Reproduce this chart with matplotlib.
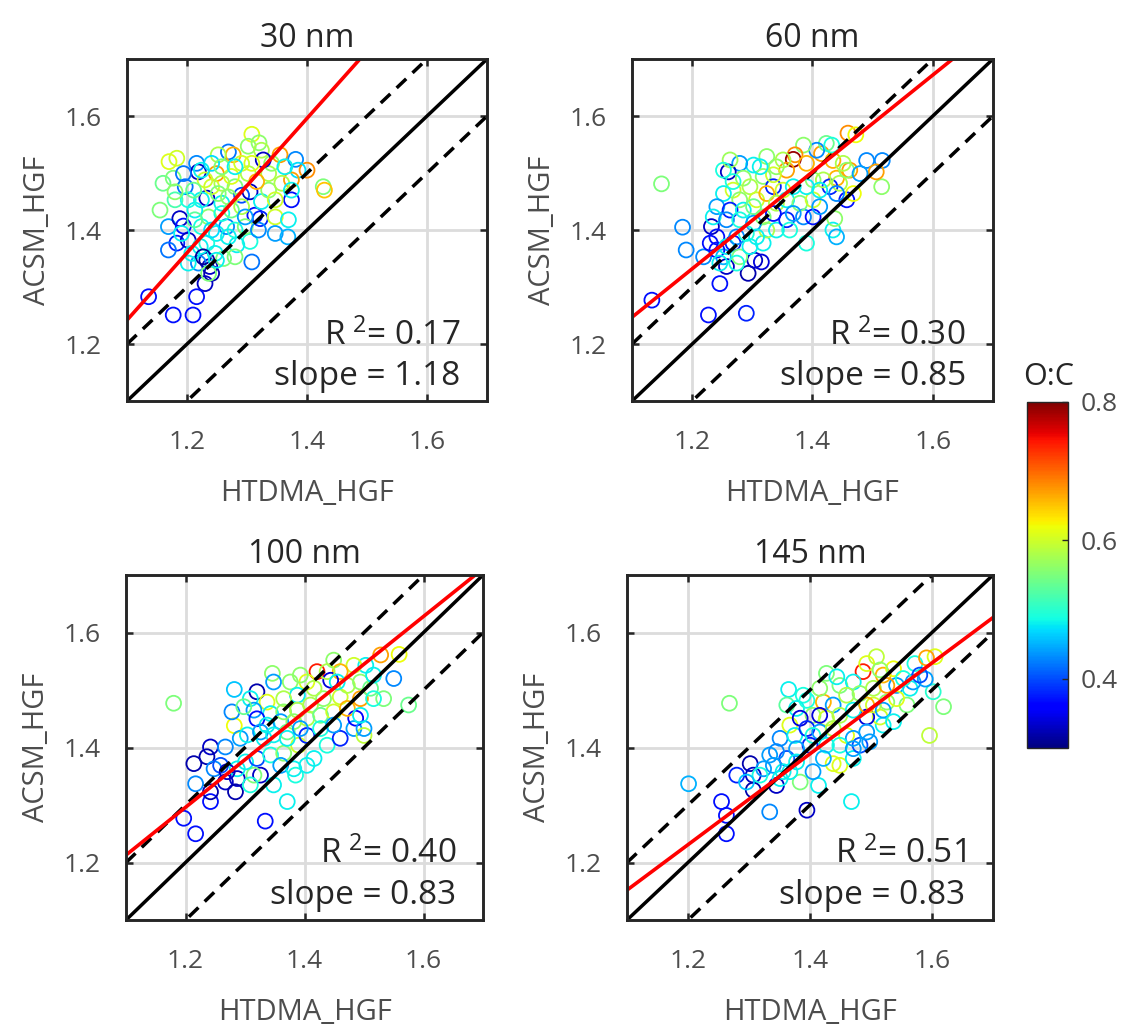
import numpy as np
import matplotlib
matplotlib.use('Agg')
import matplotlib.pyplot as plt
from matplotlib.colors import Normalize
from matplotlib.cm import ScalarMappable

plt.rcParams['font.family'] = ['Open Sans', 'DejaVu Sans']
plt.rcParams['mathtext.fontset'] = 'custom'
plt.rcParams['mathtext.rm'] = 'Open Sans'
plt.rcParams['mathtext.it'] = 'Open Sans'
plt.rcParams['axes.linewidth'] = 2.1

# ---- data ----
titles = ['30 nm', '60 nm', '100 nm', '145 nm']
r2_text = ['0.17', '0.30', '0.40', '0.51']
slope_text = ['1.18', '0.85', '0.83', '0.83']
fit_slope = [1.18, 0.85, 0.83, 0.79]
fit_icpt = [-0.056, 0.312, 0.30, 0.283]
axis_ticks = [1.2, 1.4, 1.6]
cbar_ticks = [0.4, 0.6, 0.8]

x30 = [
    1.308, 1.320, 1.302, 1.324, 1.170, 1.183, 1.269, 1.277, 1.252, 1.355,
    1.381, 1.400, 1.385, 1.374, 1.427, 1.429, 1.216, 1.219, 1.249, 1.160,
    1.177, 1.197, 1.180, 1.155, 1.169, 1.188, 1.194, 1.183, 1.169, 1.202,
    1.233, 1.241, 1.224, 1.258, 1.280, 1.291, 1.305, 1.313, 1.322, 1.347,
    1.374, 1.369, 1.347, 1.368, 1.305, 1.283, 1.308, 1.233, 1.238, 1.241,
    1.230, 1.216, 1.136, 1.177, 1.210, 1.219, 1.261, 1.208, 1.222, 1.249,
    1.266, 1.280, 1.297, 1.224, 1.236, 1.213, 1.258, 1.274, 1.291, 1.324,
    1.336, 1.347, 1.336, 1.316, 1.302, 1.291, 1.274, 1.258, 1.230, 1.224,
    1.241, 1.258, 1.341, 1.363, 1.358, 1.327, 1.202, 1.191, 1.233, 1.247,
    1.213, 1.241, 1.269, 1.319, 1.297, 1.194, 1.211, 1.252, 1.269, 1.308,
    1.280, 1.374, 1.180, 1.227, 1.236, 1.202, 1.249, 1.280]
y30 = [
    1.568, 1.553, 1.547, 1.540, 1.520, 1.526, 1.537, 1.532, 1.532, 1.532,
    1.524, 1.505, 1.505, 1.488, 1.476, 1.470, 1.517, 1.502, 1.499, 1.482,
    1.491, 1.476, 1.453, 1.435, 1.406, 1.420, 1.407, 1.377, 1.365, 1.382,
    1.456, 1.476, 1.453, 1.447, 1.476, 1.461, 1.467, 1.426, 1.420, 1.423,
    1.453, 1.418, 1.394, 1.388, 1.380, 1.374, 1.344, 1.347, 1.336, 1.324,
    1.306, 1.283, 1.283, 1.251, 1.251, 1.342, 1.350, 1.359, 1.371, 1.394,
    1.406, 1.400, 1.406, 1.406, 1.423, 1.435, 1.429, 1.435, 1.441, 1.450,
    1.470, 1.453, 1.499, 1.485, 1.499, 1.517, 1.494, 1.482, 1.488, 1.505,
    1.517, 1.511, 1.517, 1.511, 1.482, 1.523, 1.453, 1.394, 1.377, 1.359,
    1.418, 1.400, 1.388, 1.400, 1.423, 1.499, 1.470, 1.464, 1.458, 1.517,
    1.511, 1.470, 1.467, 1.353, 1.324, 1.342, 1.347, 1.353]
oc30 = [
    0.61, 0.56, 0.56, 0.58, 0.61, 0.60, 0.42, 0.66, 0.58, 0.67,
    0.43, 0.68, 0.47, 0.67, 0.55, 0.65, 0.43, 0.33, 0.67, 0.54,
    0.55, 0.42, 0.52, 0.55, 0.44, 0.33, 0.37, 0.38, 0.42, 0.33,
    0.33, 0.60, 0.48, 0.48, 0.55, 0.40, 0.33, 0.37, 0.38, 0.60,
    0.37, 0.48, 0.44, 0.45, 0.49, 0.48, 0.42, 0.32, 0.33, 0.32,
    0.33, 0.37, 0.37, 0.37, 0.37, 0.43, 0.55, 0.48, 0.48, 0.48,
    0.43, 0.49, 0.55, 0.49, 0.56, 0.48, 0.49, 0.54, 0.58, 0.48,
    0.56, 0.60, 0.58, 0.66, 0.58, 0.60, 0.61, 0.58, 0.60, 0.48,
    0.47, 0.55, 0.56, 0.48, 0.58, 0.33, 0.49, 0.48, 0.49, 0.48,
    0.53, 0.47, 0.48, 0.43, 0.44, 0.42, 0.54, 0.55, 0.56, 0.61,
    0.48, 0.48, 0.56, 0.31, 0.55, 0.48, 0.48, 0.55]

x60 = [
    1.149, 1.184, 1.190, 1.133, 1.227, 1.290, 1.246, 1.293, 1.257, 1.304,
    1.315, 1.219, 1.252, 1.232, 1.241, 1.268, 1.279, 1.296, 1.318, 1.324,
    1.340, 1.357, 1.385, 1.401, 1.390, 1.434, 1.440, 1.437, 1.457, 1.468,
    1.515, 1.490, 1.516, 1.506, 1.462, 1.459, 1.472, 1.440, 1.429, 1.415,
    1.423, 1.407, 1.385, 1.371, 1.368, 1.390, 1.357, 1.340, 1.324, 1.302,
    1.279, 1.260, 1.263, 1.252, 1.285, 1.296, 1.318, 1.335, 1.351, 1.368,
    1.401, 1.418, 1.268, 1.252, 1.279, 1.307, 1.324, 1.340, 1.357, 1.379,
    1.401, 1.412, 1.241, 1.263, 1.285, 1.302, 1.318, 1.335, 1.368, 1.235,
    1.257, 1.279, 1.302, 1.230, 1.241, 1.257, 1.274, 1.290, 1.307, 1.246,
    1.274, 1.362, 1.412, 1.445, 1.457, 1.479, 1.434, 1.451, 1.432, 1.351,
    1.335, 1.268, 1.313, 1.440, 1.390]
y60 = [
    1.481, 1.405, 1.365, 1.277, 1.251, 1.254, 1.306, 1.324, 1.336, 1.347,
    1.344, 1.353, 1.353, 1.406, 1.388, 1.377, 1.353, 1.371, 1.377, 1.400,
    1.400, 1.418, 1.423, 1.423, 1.377, 1.400, 1.388, 1.420, 1.453, 1.464,
    1.476, 1.522, 1.522, 1.502, 1.505, 1.570, 1.567, 1.491, 1.476, 1.534,
    1.552, 1.540, 1.549, 1.532, 1.524, 1.517, 1.505, 1.511, 1.529, 1.514,
    1.517, 1.502, 1.523, 1.505, 1.491, 1.476, 1.494, 1.476, 1.470, 1.476,
    1.488, 1.488, 1.470, 1.464, 1.453, 1.453, 1.464, 1.447, 1.453, 1.447,
    1.453, 1.470, 1.441, 1.435, 1.435, 1.441, 1.423, 1.429, 1.429, 1.423,
    1.418, 1.418, 1.412, 1.377, 1.365, 1.371, 1.388, 1.394, 1.388, 1.342,
    1.342, 1.400, 1.441, 1.482, 1.505, 1.499, 1.522, 1.517, 1.549, 1.523,
    1.497, 1.485, 1.511, 1.464, 1.476]
oc60 = [
    0.55, 0.43, 0.43, 0.37, 0.37, 0.38, 0.37, 0.32, 0.33, 0.33,
    0.34, 0.43, 0.45, 0.33, 0.37, 0.38, 0.55, 0.48, 0.48, 0.58,
    0.48, 0.38, 0.43, 0.37, 0.49, 0.48, 0.45, 0.56, 0.37, 0.62,
    0.56, 0.43, 0.43, 0.67, 0.67, 0.68, 0.62, 0.66, 0.38, 0.67,
    0.54, 0.43, 0.56, 0.68, 0.79, 0.66, 0.67, 0.56, 0.56, 0.48,
    0.44, 0.33, 0.57, 0.49, 0.56, 0.58, 0.56, 0.38, 0.60, 0.48,
    0.56, 0.58, 0.60, 0.48, 0.56, 0.60, 0.66, 0.58, 0.48, 0.55,
    0.60, 0.48, 0.44, 0.38, 0.48, 0.54, 0.55, 0.37, 0.44, 0.48,
    0.43, 0.49, 0.44, 0.37, 0.37, 0.48, 0.43, 0.49, 0.48, 0.48,
    0.49, 0.49, 0.44, 0.58, 0.56, 0.44, 0.66, 0.58, 0.49, 0.58,
    0.60, 0.49, 0.48, 0.43, 0.48]

x100 = [
    1.180, 1.282, 1.320, 1.282, 1.242, 1.236, 1.214, 1.267, 1.292, 1.248,
    1.217, 1.267, 1.287, 1.284, 1.242, 1.197, 1.217, 1.334, 1.371, 1.326,
    1.348, 1.385, 1.315, 1.301, 1.320, 1.343, 1.365, 1.390, 1.416, 1.404,
    1.438, 1.460, 1.483, 1.486, 1.500, 1.533, 1.550, 1.575, 1.559, 1.528,
    1.494, 1.503, 1.483, 1.449, 1.460, 1.421, 1.444, 1.346, 1.348, 1.376,
    1.404, 1.388, 1.365, 1.337, 1.309, 1.315, 1.343, 1.365, 1.388, 1.410,
    1.432, 1.460, 1.472, 1.511, 1.516, 1.320, 1.337, 1.360, 1.382, 1.404,
    1.427, 1.449, 1.472, 1.304, 1.326, 1.348, 1.371, 1.427, 1.449, 1.287,
    1.259, 1.309, 1.332, 1.360, 1.404, 1.382, 1.494, 1.516, 1.416, 1.438,
    1.393, 1.371, 1.393, 1.278, 1.298, 1.242, 1.270, 1.500, 1.494, 1.455]
y100 = [
    1.477, 1.501, 1.497, 1.438, 1.401, 1.384, 1.372, 1.401, 1.416, 1.363,
    1.337, 1.340, 1.346, 1.323, 1.306, 1.277, 1.250, 1.272, 1.306, 1.352,
    1.335, 1.352, 1.352, 1.375, 1.381, 1.387, 1.390, 1.404, 1.381, 1.421,
    1.404, 1.416, 1.433, 1.451, 1.421, 1.485, 1.520, 1.474, 1.562, 1.561,
    1.485, 1.543, 1.543, 1.552, 1.532, 1.532, 1.517, 1.529, 1.514, 1.514,
    1.514, 1.491, 1.485, 1.479, 1.485, 1.465, 1.459, 1.462, 1.465, 1.474,
    1.485, 1.488, 1.508, 1.503, 1.485, 1.450, 1.439, 1.445, 1.445, 1.451,
    1.456, 1.462, 1.468, 1.422, 1.427, 1.422, 1.427, 1.433, 1.439, 1.363,
    1.369, 1.335, 1.416, 1.369, 1.369, 1.363, 1.514, 1.526, 1.503, 1.532,
    1.526, 1.416, 1.433, 1.462, 1.471, 1.323, 1.358, 1.433, 1.456, 1.514]
oc100 = [
    0.55, 0.46, 0.32, 0.62, 0.33, 0.32, 0.32, 0.43, 0.44, 0.43,
    0.43, 0.33, 0.33, 0.32, 0.37, 0.37, 0.37, 0.37, 0.48, 0.33,
    0.48, 0.49, 0.55, 0.48, 0.40, 0.49, 0.56, 0.60, 0.48, 0.38,
    0.49, 0.38, 0.44, 0.36, 0.59, 0.55, 0.43, 0.54, 0.62, 0.67,
    0.67, 0.48, 0.60, 0.56, 0.66, 0.74, 0.34, 0.56, 0.44, 0.56,
    0.61, 0.48, 0.58, 0.61, 0.48, 0.44, 0.48, 0.56, 0.58, 0.58,
    0.56, 0.60, 0.58, 0.54, 0.49, 0.37, 0.48, 0.44, 0.56, 0.58,
    0.54, 0.60, 0.66, 0.48, 0.44, 0.48, 0.54, 0.49, 0.44, 0.48,
    0.40, 0.49, 0.48, 0.44, 0.48, 0.48, 0.56, 0.48, 0.58, 0.58,
    0.56, 0.48, 0.44, 0.43, 0.54, 0.32, 0.33, 0.44, 0.48, 0.48]

x145 = [
    1.268, 1.201, 1.255, 1.263, 1.263, 1.334, 1.395, 1.468, 1.280, 1.302,
    1.307, 1.307, 1.324, 1.345, 1.334, 1.351, 1.362, 1.384, 1.367, 1.414,
    1.405, 1.438, 1.449, 1.471, 1.482, 1.498, 1.520, 1.515, 1.493, 1.596,
    1.619, 1.602, 1.589, 1.572, 1.605, 1.591, 1.509, 1.487, 1.520, 1.537,
    1.542, 1.564, 1.559, 1.427, 1.449, 1.471, 1.460, 1.482, 1.504, 1.526,
    1.365, 1.389, 1.362, 1.378, 1.395, 1.422, 1.438, 1.405, 1.427, 1.449,
    1.471, 1.504, 1.526, 1.542, 1.367, 1.384, 1.375, 1.395, 1.416, 1.438,
    1.460, 1.471, 1.427, 1.400, 1.378, 1.345, 1.356, 1.318, 1.340, 1.378,
    1.422, 1.493, 1.520, 1.569, 1.580, 1.444, 1.416, 1.493, 1.515, 1.553,
    1.405, 1.449, 1.471, 1.351, 1.296, 1.537, 1.416, 1.493]
y145 = [
    1.477, 1.337, 1.306, 1.282, 1.250, 1.288, 1.291, 1.306, 1.352, 1.372,
    1.352, 1.326, 1.363, 1.334, 1.387, 1.416, 1.381, 1.340, 1.358, 1.334,
    1.358, 1.372, 1.369, 1.381, 1.404, 1.410, 1.439, 1.453, 1.453, 1.421,
    1.471, 1.497, 1.519, 1.546, 1.558, 1.556, 1.558, 1.532, 1.526, 1.537,
    1.508, 1.503, 1.474, 1.529, 1.508, 1.514, 1.491, 1.494, 1.503, 1.508,
    1.501, 1.491, 1.474, 1.468, 1.482, 1.479, 1.474, 1.456, 1.451, 1.456,
    1.465, 1.474, 1.479, 1.485, 1.439, 1.451, 1.421, 1.433, 1.427, 1.433,
    1.421, 1.416, 1.404, 1.404, 1.398, 1.393, 1.358, 1.352, 1.369, 1.375,
    1.381, 1.427, 1.465, 1.514, 1.526, 1.523, 1.503, 1.546, 1.535, 1.520,
    1.421, 1.404, 1.398, 1.346, 1.340, 1.445, 1.456, 1.474]
oc145 = [
    0.55, 0.45, 0.37, 0.37, 0.37, 0.43, 0.33, 0.48, 0.38, 0.32,
    0.33, 0.32, 0.44, 0.33, 0.44, 0.43, 0.40, 0.55, 0.48, 0.48,
    0.44, 0.61, 0.61, 0.48, 0.40, 0.44, 0.48, 0.60, 0.34, 0.59,
    0.55, 0.50, 0.44, 0.49, 0.61, 0.67, 0.59, 0.74, 0.66, 0.62,
    0.44, 0.48, 0.55, 0.55, 0.55, 0.48, 0.58, 0.56, 0.58, 0.67,
    0.48, 0.49, 0.53, 0.48, 0.49, 0.66, 0.44, 0.56, 0.60, 0.58,
    0.48, 0.60, 0.56, 0.61, 0.61, 0.34, 0.48, 0.38, 0.44, 0.58,
    0.61, 0.44, 0.48, 0.38, 0.44, 0.43, 0.48, 0.49, 0.44, 0.48,
    0.45, 0.44, 0.44, 0.44, 0.40, 0.48, 0.56, 0.61, 0.56, 0.49,
    0.49, 0.49, 0.44, 0.48, 0.46, 0.48, 0.34, 0.66]

xs_all = [x30, x60, x100, x145]
ys_all = [y30, y60, y100, y145]
ocs_all = [oc30, oc60, oc100, oc145]

# axes rectangles in figure fraction (left, bottom, width, height)
rects = [
    [0.1132, 0.6114, 0.3209, 0.3314],
    [0.5633, 0.6114, 0.3217, 0.3314],
    [0.1123, 0.1085, 0.3182, 0.3343],
    [0.5588, 0.1085, 0.3262, 0.3343],
]

fig = plt.figure(figsize=(11.22, 10.32), dpi=100)
cmap = plt.get_cmap('jet')
norm = Normalize(vmin=0.3, vmax=0.8)
dark = '#262626'
tick_gray = '#4d4d4d'

line_x = np.array([1.1, 1.7])

for i in range(4):
    ax = fig.add_axes(rects[i])
    ax.set_xlim(1.1, 1.7)
    ax.set_ylim(1.1, 1.7)
    ax.grid(True, color='#dcdcdc', linewidth=2.0)
    ax.set_axisbelow(True)

    cols = cmap(norm(np.array(ocs_all[i])))
    ax.scatter(xs_all[i], ys_all[i], s=115, facecolors='none', edgecolors=cols,
               linewidths=1.3, zorder=2)

    ax.plot(line_x, line_x, color='black', lw=2.5, zorder=3)
    ax.plot(line_x, line_x + 0.1, color='black', lw=2.5, ls=(0, (3.8, 2.5)), zorder=3)
    ax.plot(line_x, line_x - 0.1, color='black', lw=2.5, ls=(0, (3.8, 2.5)), zorder=3)
    ax.plot(line_x, fit_slope[i] * line_x + fit_icpt[i], color='#ff0000', lw=2.6, zorder=4)

    ax.set_xticks(axis_ticks)
    ax.set_yticks(axis_ticks)
    ax.tick_params(direction='in', top=True, right=True, length=5, width=1.8,
                   color=dark, labelsize=19, labelcolor=tick_gray)
    ax.tick_params(axis='x', pad=21)
    ax.tick_params(axis='y', pad=18)
    for sp in ax.spines.values():
        sp.set_color(dark)
        sp.set_zorder(5)

    ax.set_title(titles[i], fontsize=23, color=dark, pad=9)
    ax.set_xlabel('HTDMA_HGF', fontsize=21, color=tick_gray, labelpad=17)
    ax.set_ylabel('ACSM_HGF', fontsize=21, color=tick_gray, labelpad=9)

    ax.text(0.925, 0.165, 'R$^{\\ 2}$= ' + r2_text[i], transform=ax.transAxes,
            ha='right', va='baseline', fontsize=24, color=dark, zorder=6)
    ax.text(0.925, 0.046, 'slope = ' + slope_text[i], transform=ax.transAxes,
            ha='right', va='baseline', fontsize=24, color=dark, zorder=6)

cax = fig.add_axes([0.9153, 0.2752, 0.0365, 0.3353])
sm = ScalarMappable(norm=norm, cmap=cmap)
cb = fig.colorbar(sm, cax=cax, ticks=cbar_ticks)
cb.ax.tick_params(direction='in', length=4, width=1.0, color=dark,
                  labelsize=19, labelcolor=tick_gray, pad=9)
cb.outline.set_edgecolor(dark)
cb.outline.set_linewidth(1.0)
fig.text(0.9345, 1 - 377 / 1032, 'O:C', ha='center', va='center', fontsize=22, color=dark)

fig.savefig('out.png', dpi=100)
